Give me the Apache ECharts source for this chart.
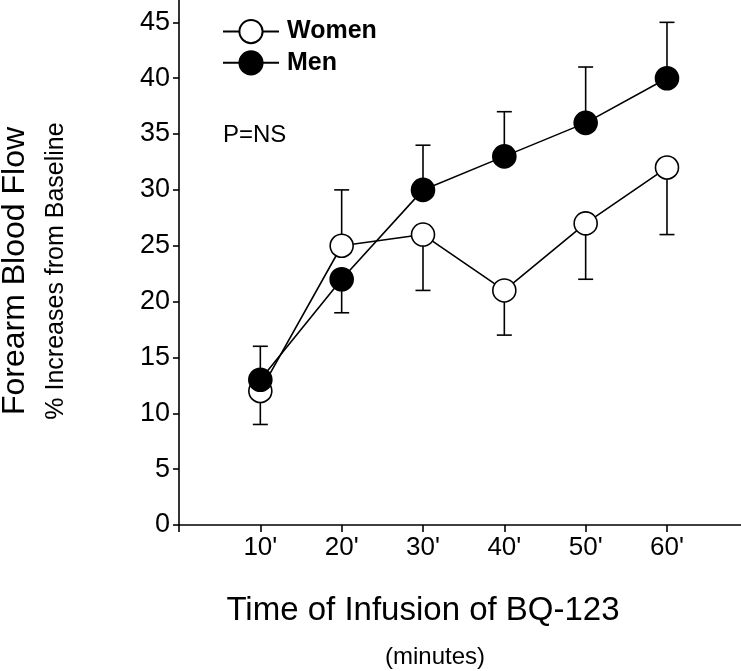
<!DOCTYPE html>
<html>
<head>
<meta charset="utf-8">
<script src="https://cdn.jsdelivr.net/npm/echarts@6/dist/echarts.min.js"></script>
<style>
html,body{margin:0;padding:0;background:#fff;}
#chart{width:741px;height:671px;}
</style>
</head>
<body>
<div id="chart"></div>
<script>
// Data
const times = [10, 20, 30, 40, 50, 60];
const womenMean = [12, 25, 26, 21, 27, 32];
const womenErrEnd = [9, 30, 21, 17, 22, 26];
const menMean = [13, 22, 30, 33, 36, 40];
const menErrEnd = [16, 19, 34, 37, 41, 45];
const xTickValues = [0, 10, 20, 30, 40, 50, 60];
const xTickLabels = ['', "10'", "20'", "30'", "40'", "50'", "60'"];
const yTickValues = [0, 5, 10, 15, 20, 25, 30, 35, 40, 45];
const seriesNames = ['Women', 'Men'];

const FONT = '"Liberation Sans", Arial, sans-serif';

function pairs(xs, ys) { return xs.map((x, i) => [x, ys[i]]); }
function errData(xs, ys, es) { return xs.map((x, i) => [x, ys[i], es[i]]); }

function errRender(params, api) {
  const x = api.value(0), y = api.value(1), e = api.value(2);
  const p0 = api.coord([x, y]);
  const p1 = api.coord([x, e]);
  const st = { stroke: '#000', lineWidth: 1.6 };
  return {
    type: 'group',
    children: [
      { type: 'line', shape: { x1: p0[0], y1: p0[1], x2: p1[0], y2: p1[1] }, style: st },
      { type: 'line', shape: { x1: p1[0] - 7.5, y1: p1[1], x2: p1[0] + 7.5, y2: p1[1] }, style: st }
    ]
  };
}

const chart = echarts.init(document.getElementById('chart'), null, { renderer: 'canvas' });
chart.setOption({
  animation: false,
  backgroundColor: '#fff',
  grid: { left: 179, top: 0, width: 562, height: 525, containLabel: false },
  xAxis: {
    type: 'value', min: 0, max: 69.1,
    axisLine: { show: true, onZero: false, lineStyle: { color: '#000', width: 1.6 } },
    axisTick: { show: true, length: 7, customValues: xTickValues, lineStyle: { color: '#000', width: 1.6 } },
    axisLabel: {
      margin: 10, color: '#000', fontSize: 26, fontFamily: FONT,
      customValues: xTickValues,
      formatter: v => xTickLabels[xTickValues.indexOf(v)] || ''
    },
    splitLine: { show: false }
  },
  yAxis: {
    type: 'value', min: 0, max: 47, interval: 5,
    axisLine: { show: true, lineStyle: { color: '#000', width: 1.6 } },
    axisTick: { show: true, length: 6, customValues: yTickValues, lineStyle: { color: '#000', width: 1.6 } },
    axisLabel: { margin: 9, color: '#000', fontSize: 27, fontFamily: FONT, customValues: yTickValues },
    splitLine: { show: false }
  },
  legend: {
    orient: 'vertical', left: 217, top: 14,
    itemWidth: 56, itemHeight: 29, itemGap: 6,
    data: seriesNames,
    textStyle: { fontSize: 25, fontWeight: 'bold', color: '#000', fontFamily: FONT, padding: [0, 0, 0, 3] }
  },
  graphic: [
    { type: 'text', left: 223, top: 123, style: { text: 'P=NS', font: '24px ' + FONT, fill: '#000' } },
    { type: 'text', x: 15, y: 271, rotation: Math.PI / 2,
      style: { text: 'Forearm Blood Flow', font: '32px ' + FONT, fill: '#000', align: 'center', verticalAlign: 'middle' } },
    { type: 'text', x: 56, y: 271, rotation: Math.PI / 2,
      style: { text: '% Increases from Baseline', font: '25px ' + FONT, fill: '#000', align: 'center', verticalAlign: 'middle' } },
    { type: 'text', x: 423, y: 611,
      style: { text: 'Time of Infusion of BQ-123', font: '33px ' + FONT, fill: '#000', align: 'center', verticalAlign: 'middle' } },
    { type: 'text', x: 435, y: 657,
      style: { text: '(minutes)', font: '24px ' + FONT, fill: '#000', align: 'center', verticalAlign: 'middle' } }
  ],
  series: [
    { name: 'WomenErr', type: 'custom', renderItem: errRender, data: errData(times, womenMean, womenErrEnd), z: 1, silent: true },
    { name: 'MenErr', type: 'custom', renderItem: errRender, data: errData(times, menMean, menErrEnd), z: 1, silent: true },
    {
      name: seriesNames[0], type: 'line', data: pairs(times, womenMean), z: 3,
      symbol: 'circle', symbolSize: 23,
      lineStyle: { color: '#000', width: 1.6 },
      itemStyle: { color: '#fff', borderColor: '#000', borderWidth: 1.6 }
    },
    {
      name: seriesNames[1], type: 'line', data: pairs(times, menMean), z: 4,
      symbol: 'circle', symbolSize: 23,
      lineStyle: { color: '#000', width: 1.6 },
      itemStyle: { color: '#000', borderColor: '#000', borderWidth: 1.6 }
    }
  ]
});
</script>
</body>
</html>
